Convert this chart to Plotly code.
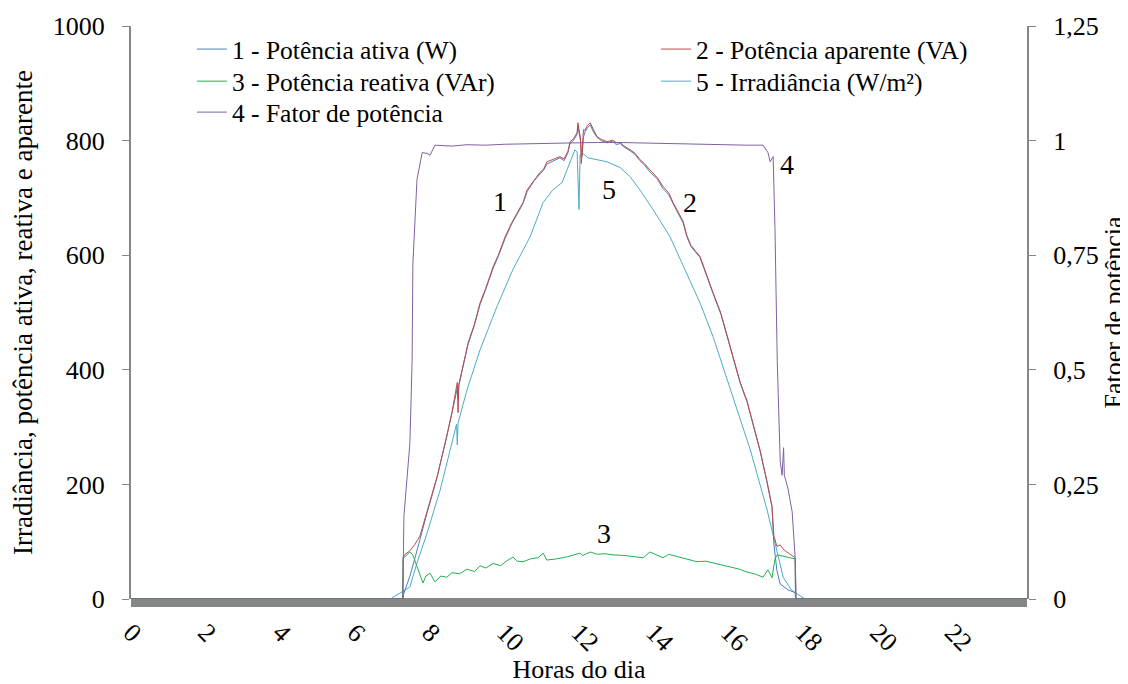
import plotly.graph_objects as go

# 1 - Potência ativa (W)
horas_ativa = [0, 7.28, 7.3, 7.47, 7.6, 7.74, 7.93, 8.2, 8.46, 8.6, 8.74, 8.76, 8.78, 9.03, 9.2, 9.35, 9.5,
               9.7, 9.85, 10.02, 10.2, 10.34, 10.5, 10.61, 10.8, 10.96, 11.05, 11.14, 11.3, 11.49, 11.6,
               11.7, 11.76, 11.85, 11.95, 11.97, 12.04, 12.08, 12.12, 12.16, 12.22, 12.3, 12.4, 12.48,
               12.6, 12.75, 12.9, 13.0, 13.1, 13.2, 13.37, 13.5, 13.63, 13.75, 13.9, 14.1, 14.25, 14.4,
               14.52, 14.7, 14.79, 14.89, 15.0, 15.24, 15.4, 15.59, 15.8, 15.97, 16.15, 16.32, 16.5,
               16.66, 16.85, 17.04, 17.17, 17.22, 17.3, 17.39, 17.6, 17.79, 17.8, 24]
potencia_ativa = [0, 0, 8, 40, 70, 105, 150, 212, 282, 325, 368, 350, 372, 445, 478, 514, 540,
                  577, 600, 629, 655, 671, 690, 711, 730, 742, 748, 759, 764, 770, 765,
                  778, 795, 800, 811, 825, 800, 772, 806, 815, 822, 827, 814, 806,
                  800, 796, 799, 793, 795, 789, 782, 776, 765, 758, 745, 733, 716, 706,
                  690, 668, 656, 632, 615, 596, 566, 533, 497, 457, 418, 376, 344,
                  306, 258, 202, 160, 96, 50, 26, 16, 11, 0, 0]

# 2 - Potência aparente (VA)
horas_aparente = [0, 7.28, 7.29, 7.34, 7.47, 7.6, 7.74, 7.93, 8.2, 8.46, 8.6, 8.74, 8.76, 8.78, 9.03, 9.2,
                  9.35, 9.5, 9.7, 9.85, 10.02, 10.2, 10.34, 10.5, 10.61, 10.8, 10.96, 11.05, 11.14, 11.3,
                  11.49, 11.6, 11.7, 11.76, 11.85, 11.95, 11.97, 12.04, 12.06, 12.08, 12.12, 12.16, 12.22,
                  12.3, 12.4, 12.48, 12.6, 12.75, 12.9, 13.0, 13.1, 13.2, 13.37, 13.5, 13.63, 13.75, 13.9,
                  14.1, 14.25, 14.4, 14.52, 14.7, 14.79, 14.89, 15.0, 15.24, 15.4, 15.59, 15.8, 15.97,
                  16.15, 16.32, 16.5, 16.66, 16.85, 17.04, 17.17, 17.22, 17.3, 17.39, 17.5, 17.79, 17.8, 24]
potencia_aparente = [0, 0, 73, 78, 84, 95, 110, 152, 214, 284, 327, 378, 325, 374, 447, 480,
                     517, 542, 580, 602, 632, 657, 674, 692, 714, 732, 745, 750, 763, 767,
                     772, 768, 781, 798, 803, 814, 831, 804, 760, 775, 819, 818, 826,
                     831, 817, 807, 802, 798, 801, 796, 797, 791, 784, 778, 767, 760, 749,
                     735, 720, 709, 692, 671, 659, 634, 617, 598, 568, 535, 499, 459,
                     420, 378, 346, 308, 260, 204, 162, 110, 92, 94, 85, 72, 0, 0]

# 3 - Potência reativa (VAr)
horas_reativa = [0, 7.28, 7.29, 7.34, 7.47, 7.55, 7.82, 7.9, 8.01, 8.14, 8.3, 8.46, 8.6, 8.8, 9.0, 9.2,
                 9.35, 9.5, 9.7, 9.9, 10.05, 10.23, 10.35, 10.5, 10.7, 10.9, 11.04, 11.14, 11.4, 11.7,
                 12.03, 12.1, 12.3, 12.5, 12.7, 12.91, 13.2, 13.5, 13.72, 13.9, 14.05, 14.25, 14.4,
                 14.71, 14.9, 15.16, 15.4, 15.59, 15.8, 16.05, 16.3, 16.5, 16.7, 16.93, 17.06, 17.17,
                 17.25, 17.31, 17.5, 17.79, 17.8, 24]
potencia_reativa = [0, 0, 72, 74, 82, 77, 28, 40, 45, 30, 40, 38, 46, 44, 52, 48,
                    58, 54, 62, 58, 66, 73, 66, 65, 70, 72, 80, 68, 70, 74,
                    80, 76, 82, 78, 79, 77, 76, 74, 72, 82, 78, 72, 78,
                    73, 70, 65, 66, 63, 60, 56, 52, 47, 44, 38, 51, 37,
                    70, 77, 74, 70, 0, 0]

# 4 - Fator de potência
horas_fp = [0, 7.28, 7.31, 7.47, 7.53, 7.55, 7.66, 7.8, 7.93, 8.01, 8.14, 8.6, 9.0, 9.5, 10.0, 10.5,
            11.0, 11.5, 12.0, 12.5, 13.0, 13.5, 14.0, 14.5, 15.0, 15.5, 16.0, 16.5, 16.93, 17.06,
            17.12, 17.2, 17.25, 17.31, 17.39, 17.44, 17.48, 17.5, 17.6, 17.71, 17.79, 17.82, 24]
fator_potencia = [0, 0, 0.18, 0.34, 0.52, 0.73, 0.915, 0.974, 0.972, 0.968, 0.99, 0.988, 0.991, 0.99,
                  0.992, 0.993, 0.994, 0.995, 0.996, 0.996, 0.996, 0.995, 0.994, 0.993, 0.993, 0.992,
                  0.991, 0.99, 0.99, 0.974, 0.954, 0.965, 0.806, 0.52, 0.3, 0.27, 0.33, 0.27, 0.24,
                  0.19, 0.09, 0, 0]

# 5 - Irradiância (W/m²)
horas_irr = [0, 6.95, 7.02, 7.2, 7.35, 7.47, 7.66, 7.93, 8.28, 8.72, 8.74, 8.76, 9.0, 9.35, 9.8,
             10.23, 10.69, 11.04, 11.3, 11.55, 11.68, 11.89, 11.95, 12.0, 12.03, 12.08, 12.24, 12.48,
             12.75, 13.1, 13.37, 13.63, 13.98, 14.44, 14.8, 15.24, 15.59, 16.13, 16.59, 17.04, 17.31,
             17.47, 17.7, 17.98, 18.05, 24]
irradiancia = [0, 0, 3, 10, 15, 21, 63, 115, 190, 305, 269, 307, 365, 435, 510,
               575, 632, 692, 714, 727, 749, 784, 780, 680, 775, 779, 770, 767,
               763, 753, 737, 714, 680, 632, 580, 517, 458, 353, 260, 155, 80,
               38, 15, 3, 0, 0]

fonte = "Liberation Serif"
cinza = "#868686"

fig = go.Figure()
fig.add_trace(go.Scatter(x=horas_irr, y=irradiancia, mode="lines", name="5 - Irradiância (W/m²)",
                         line=dict(color="#4bacc6", width=1), legend="legend4"))
fig.add_trace(go.Scatter(x=horas_ativa, y=potencia_ativa, mode="lines", name="1 - Potência ativa (W)",
                         line=dict(color="#4a7ebb", width=1), legend="legend"))
fig.add_trace(go.Scatter(x=horas_aparente, y=potencia_aparente, mode="lines", name="2 - Potência aparente (VA)",
                         line=dict(color="#be4b48", width=1), legend="legend2"))
fig.add_trace(go.Scatter(x=horas_reativa, y=potencia_reativa, mode="lines", name="3 - Potência reativa (VAr)",
                         line=dict(color="#22b04f", width=1), legend="legend3"))
fig.add_trace(go.Scatter(x=horas_fp, y=fator_potencia, mode="lines", name="4 - Fator de potência",
                         line=dict(color="#7e62a2", width=1), legend="legend5", yaxis="y2"))

# rótulos das curvas
for txt, hx, vy in [("1", 9.88, 693), ("2", 14.97, 692), ("3", 12.67, 115), ("4", 17.57, 758), ("5", 12.8, 714)]:
    fig.add_annotation(x=hx, y=vy, text=txt, showarrow=False, font=dict(size=28, color="black", family=fonte))

# faixa cinza sob o eixo x
fig.add_shape(type="rect", xref="paper", yref="paper", x0=0, x1=1, y0=-0.014, y1=0.0017,
              fillcolor=cinza, line_width=0, layer="below")

leg = dict(orientation="v", xanchor="left", yanchor="top", bgcolor="rgba(0,0,0,0)",
           font=dict(size=25.5, family=fonte))

fig.update_layout(
    width=1120, height=676,
    margin=dict(l=123, r=101, t=18, b=85, autoexpand=False),
    plot_bgcolor="white", paper_bgcolor="white",
    font=dict(family=fonte, size=26, color="black"),
    separators=",.",
    showlegend=True,
    legend=dict(leg, x=0.068, y=1.0),
    legend2=dict(leg, x=0.586, y=1.0),
    legend3=dict(leg, x=0.068, y=0.944),
    legend4=dict(leg, x=0.586, y=0.944),
    legend5=dict(leg, x=0.068, y=0.89),
    xaxis=dict(range=[0, 24], tickvals=list(range(0, 24, 2)), tickangle=45, showgrid=False,
               zeroline=False, showline=False, ticks="", ticklabelstandoff=12, automargin=False,
               tickfont=dict(family=fonte, size=26),
               title=dict(text="Horas do dia", font=dict(size=26, family=fonte), standoff=10)),
    yaxis=dict(range=[0, 1000], dtick=200, showgrid=False, zeroline=False, showline=True,
               linecolor=cinza, linewidth=2, ticks="outside", ticklen=7, tickcolor=cinza,
               ticklabelstandoff=12, automargin=False, tickfont=dict(family=fonte, size=26),
               title=dict(text="Irradiância, potência ativa, reativa e aparente",
                          font=dict(size=27, family=fonte), standoff=14)),
    yaxis2=dict(range=[0, 1.25], dtick=0.25, overlaying="y", side="right", showgrid=False, zeroline=False,
                showline=True, linecolor=cinza, linewidth=2, ticks="outside", ticklen=7, tickcolor=cinza,
                ticklabelstandoff=12, automargin=True, tickfont=dict(family=fonte, size=26),
                title=dict(text="Fatoer de potência", font=dict(size=26, family=fonte), standoff=4)),
)

fig.write_html("out.html")
